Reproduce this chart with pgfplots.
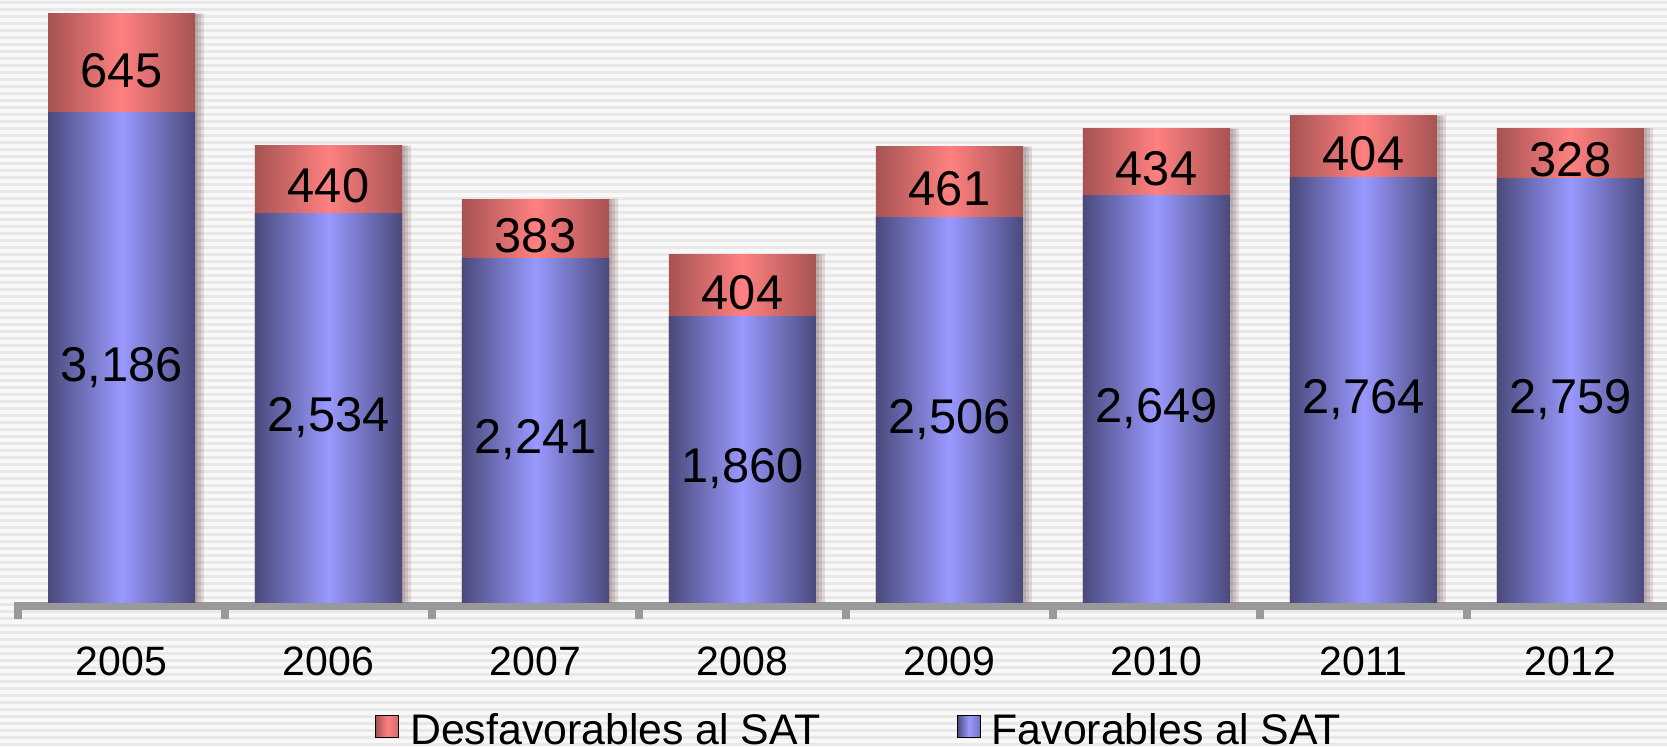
\documentclass[border=0pt]{standalone}
\usepackage{pgfplots}
\pgfplotsset{compat=1.18}
\usepackage{pgfplotstable}
\usepackage{fontspec}
\setmainfont{Liberation Sans}
\definecolor{bdark}{HTML}{4A4A7C}
\definecolor{blight}{HTML}{9999FF}
\definecolor{rdark}{HTML}{A65353}
\definecolor{rlight}{HTML}{FF8080}
\definecolor{bgc}{HTML}{F8F8F8}
\definecolor{stc}{HTML}{E8E8E8}
\definecolor{axc}{HTML}{999999}
\pgfplotstableread{
x fav des
0 3186 645
1 2534 440
2 2241 383
3 1860 404
4 2506 461
5 2649 434
6 2764 404
7 2759 328
}\datatable
\begin{document}
\begin{tikzpicture}
\path[use as bounding box] (0pt,0pt) rectangle (833.5pt,373pt);
\clip (0pt,0pt) rectangle (833.5pt,373pt);
\fill[bgc] (0pt,0pt) rectangle (833.5pt,373pt);
\foreach \i in {0,...,107}{\fill[stc] (0pt,\i*3.5pt) rectangle (833.5pt,\i*3.5pt+1.6pt);}
\begin{axis}[
  at={(9pt,72pt)}, anchor=south west,
  scale only axis, width=828pt, height=301pt,
  xmin=-0.5, xmax=7.5, ymin=0, ymax=3922,
  axis x line=bottom, axis y line=none,
  x axis line style={draw=axc, line width=4pt, -, yshift=-2pt},
  xtick={0,1,2,3,4,5,6,7},
  xticklabels={2005,2006,2007,2008,2009,2010,2011,2012},
  major tick length=0pt,
  major tick style={draw=none},
  minor xtick={-0.5,0.5,1.5,2.5,3.5,4.5,5.5,6.5},
  minor tick length=8.5pt, tick align=outside,
  every minor tick/.style={draw=axc, line width=4pt},
  xticklabel style={font=\fontsize{20.5}{24}\selectfont, inner sep=0pt, yshift=-22pt},
  /pgf/number format/assume math mode=true,
  /pgf/number format/1000 sep={,},
  legend columns=2,
  legend cell align=left,
  legend style={at={(0.2156,-0.2142)}, anchor=west, draw=none, fill=none, inner sep=0pt,
    font=\fontsize{21.4}{25}\selectfont, nodes={inner sep=0pt},
    /tikz/every even column/.append style={column sep=68pt},
    /tikz/every odd column/.append style={column sep=5.5pt}},
  clip=false,
]
\addlegendimage{legend image code/.code={\fill[left color=rdark, right color=rdark!50!rlight, middle color=rlight] (0pt,-3.2pt) rectangle (11.5pt,7.8pt);}}
\addlegendentry{Desfavorables al SAT}
\addlegendimage{legend image code/.code={\fill[left color=bdark, right color=bdark!50!blight, middle color=blight] (0pt,-3.2pt) rectangle (11.5pt,7.8pt);}}
\addlegendentry{Favorables al SAT}
\pgfplotsinvokeforeach{0,...,7}{
\addplot[ybar, bar width=73.5pt, bar shift=0pt, draw=none, forget plot,
  restrict x to domain=#1:#1,
  left color=rdark, right color=rdark, middle color=rlight,
  preaction={fill=black, fill opacity=0.07, transform canvas={xshift=1.5pt}},
  preaction={fill=black, fill opacity=0.07, transform canvas={xshift=3pt}},
  preaction={fill=black, fill opacity=0.07, transform canvas={xshift=4.5pt}}]
  table[x=x, y expr=\thisrow{fav}+\thisrow{des}] {\datatable};
\addplot[ybar, bar width=73.5pt, bar shift=0pt, draw=none, forget plot,
  restrict x to domain=#1:#1,
  left color=bdark, right color=bdark, middle color=blight]
  table[x=x, y=fav] {\datatable};
}
\addplot[only marks, mark=*, mark size=0pt, mark options={draw opacity=0, fill opacity=0}, forget plot,
  nodes near coords, point meta=explicit,
  nodes near coords style={anchor=base, yshift=-11.8pt, font=\fontsize{24.4}{28}\selectfont, text=black, inner sep=0pt, text opacity=1}]
  table[x=x, y expr=\thisrow{fav}/2, meta=fav] {\datatable};
\addplot[only marks, mark=*, mark size=0pt, mark options={draw opacity=0, fill opacity=0}, forget plot,
  nodes near coords, point meta=explicit,
  nodes near coords style={anchor=base, yshift=-11.8pt, font=\fontsize{24.4}{28}\selectfont, text=black, inner sep=0pt, text opacity=1}]
  table[x=x, y expr=\thisrow{fav}+\thisrow{des}/2, meta=des] {\datatable};
\end{axis}
\end{tikzpicture}
\end{document}
